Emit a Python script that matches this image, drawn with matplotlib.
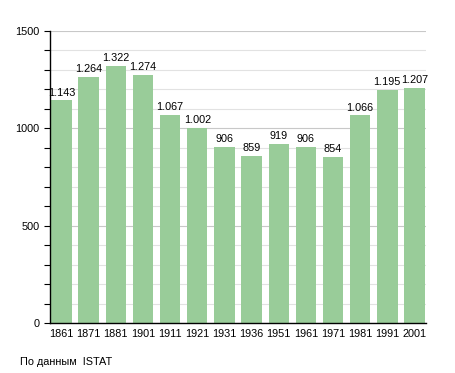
import matplotlib
matplotlib.use("Agg")
from matplotlib import pyplot as plt
from matplotlib.ticker import MultipleLocator

years = ["1861", "1871", "1881", "1901", "1911", "1921", "1931",
         "1936", "1951", "1961", "1971", "1981", "1991", "2001"]
population = [1143, 1264, 1322, 1274, 1067, 1002, 906,
              859, 919, 906, 854, 1066, 1195, 1207]
value_labels = ["1.143", "1.264", "1.322", "1.274", "1.067", "1.002", "906",
                "859", "919", "906", "854", "1.066", "1.195", "1.207"]

plt.rcParams["font.family"] = ["Liberation Sans", "DejaVu Sans"]

fig = plt.figure(figsize=(4.55, 3.73), dpi=100)
ax = fig.add_axes([0.110, 0.134, 0.826, 0.783])

x = range(len(years))
ax.bar(x, population, width=0.75, color="#99cc99", zorder=2)
for i, (v, lab) in enumerate(zip(population, value_labels)):
    ax.text(i, v + 15, lab, ha="center", va="bottom", fontsize=7.8)

ax.set_xlim(-0.42, 13.42)
ax.set_ylim(0, 1500)
ax.set_xticks(list(x))
ax.set_xticklabels(years, fontsize=7.8)
ax.yaxis.set_major_locator(MultipleLocator(500))
ax.yaxis.set_minor_locator(MultipleLocator(100))
ax.tick_params(axis="y", labelsize=7.8, length=4, width=0.8)
ax.tick_params(axis="y", which="minor", length=4, width=0.8)
ax.tick_params(axis="x", length=0, pad=4)
ax.grid(axis="y", which="minor", color="#e2e2e2", linewidth=0.8, zorder=0)
ax.grid(axis="y", which="major", color="#c8c8c8", linewidth=0.8, zorder=0)

for side in ["top", "right"]:
    ax.spines[side].set_visible(False)
ax.spines["left"].set_linewidth(1.0)
ax.spines["bottom"].set_linewidth(1.0)

fig.text(20 / 455, 1 - 362 / 373, "По данным  ISTAT", fontsize=7.8, va="center")

fig.savefig("out.png", dpi=100)
